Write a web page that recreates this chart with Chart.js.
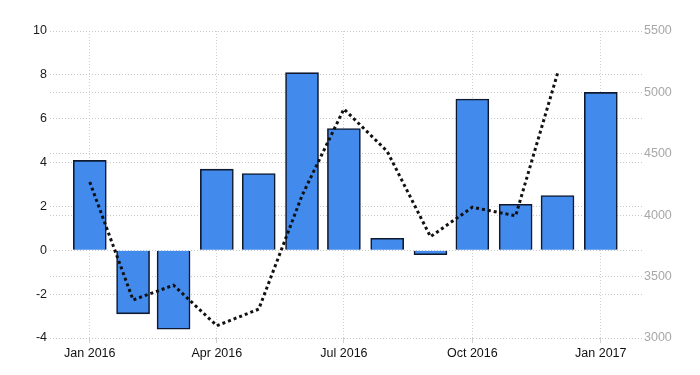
<!DOCTYPE html>
<html>
<head>
<meta charset="utf-8">
<script src="https://cdn.jsdelivr.net/npm/chart.js@4.4.1/dist/chart.umd.min.js"></script>
<style>
  html, body { margin: 0; padding: 0; background: #fff; }
  #wrap { width: 700px; height: 375px; }
</style>
</head>
<body>
<div id="wrap"><canvas id="chart"></canvas></div>
<script>
const months = ["2016-01", "2016-02", "2016-03", "2016-04", "2016-05", "2016-06", "2016-07",
                "2016-08", "2016-09", "2016-10", "2016-11", "2016-12", "2017-01"];
// bars, left axis
const growth = [4.1, -2.9, -3.6, 3.7, 3.5, 8.1, 5.55, 0.55, -0.2, 6.9, 2.1, 2.5, 7.2];
// dotted line, right axis (Jan - Dec 2016)
const level = [4270, 3310, 3430, 3100, 3235, 4160, 4865, 4520, 3825, 4065, 3995, 5155];
const tickMonths = ["2016-01", "2016-04", "2016-07", "2016-10", "2017-01"];
const tickLabels = ["Jan 2016", "Apr 2016", "Jul 2016", "Oct 2016", "Jan 2017"];

// days since 1 Jan 2016
function dayOf(m) {
    const [y, mo] = m.split("-").map(Number);
    return (Date.UTC(y, mo - 1, 1) - Date.UTC(2016, 0, 1)) / 86400000;
}

const barPoints = months.map((m, i) => ({ x: dayOf(m), y: growth[i] }));
const linePoints = level.map((v, i) => ({ x: dayOf(months[i]), y: v }));
const tickDays = tickMonths.map(dayOf);

const font = { family: "'Liberation Sans', Arial, sans-serif", size: 12.5 };

new Chart(document.getElementById("chart"), {
    type: "bar",
    data: {
        datasets: [
            {
                type: "line",
                data: linePoints,
                yAxisID: "y1",
                borderColor: "#111",
                borderWidth: 3,
                borderDash: [3, 3],
                pointRadius: 0,
                tension: 0,
                fill: false,
                order: 0,
            },
            {
                type: "bar",
                data: barPoints,
                yAxisID: "y",
                backgroundColor: "#428aec",
                borderColor: "#0f1a30",
                borderWidth: 1.6,
                barThickness: 33,
                order: 1,
            },
        ],
    },
    options: {
        responsive: true,
        maintainAspectRatio: false,
        animation: false,
        layout: { padding: { top: 31, left: 0, right: 0, bottom: 0 } },
        plugins: {
            legend: { display: false },
            tooltip: { enabled: false },
        },
        scales: {
            x: {
                type: "linear",
                offset: false,
                min: -28.5,
                max: 395.5,
                afterBuildTicks: (axis) => {
                    axis.ticks = tickDays.map((v) => ({ value: v }));
                },
                afterFit: (axis) => { axis.height = 37; },
                ticks: {
                    color: "#111",
                    font,
                    padding: 3,
                    maxRotation: 0,
                    autoSkip: false,
                    callback: (v) => tickLabels[tickDays.indexOf(v)],
                },
                grid: { offset: false, color: "#cfcfcf", lineWidth: 1, drawTicks: true, tickLength: 5 },
                border: { display: false, dash: [1, 2] },
            },
            y: {
                position: "left",
                min: -4,
                max: 10,
                afterFit: (axis) => { axis.width = 50; },
                ticks: { stepSize: 2, color: "#1a1a1a", font, padding: 3 },
                grid: { color: "#c8c8c8", lineWidth: 1, drawTicks: false },
                border: { display: false, dash: [1, 2] },
            },
            y1: {
                position: "right",
                min: 3000,
                max: 5500,
                afterFit: (axis) => { axis.width = 58; },
                ticks: { stepSize: 500, color: "#a8a8a8", font, padding: 2, callback: (v) => String(v) },
                grid: { color: "#c8c8c8", lineWidth: 1, drawTicks: false },
                border: { display: false, dash: [1, 2] },
            },
        },
    },
});
</script>
</body>
</html>
